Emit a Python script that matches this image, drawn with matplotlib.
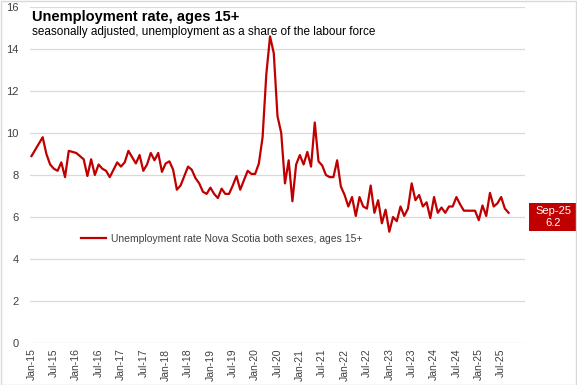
import matplotlib
matplotlib.use('Agg')
import matplotlib.pyplot as plt
from matplotlib.patches import Rectangle
import numpy as np

# Tasa de desempleo mensual, Nova Scotia, ene-2015 a sep-2025
anios = list(range(15, 26))
meses = [f'{m}-{a}' for a in anios for m in ['Jan', 'Feb', 'Mar', 'Apr', 'May', 'Jun',
                                              'Jul', 'Aug', 'Sep', 'Oct', 'Nov', 'Dec']][:129]
tasa = [8.9, 9.2, 9.5, 9.8, 9.0, 8.5, 8.3, 8.2, 8.6, 7.9, 9.15, 9.1,
        9.05, 8.9, 8.75, 7.95, 8.75, 8.0, 8.5, 8.3, 8.2, 7.9, 8.25, 8.6,
        8.4, 8.6, 9.15, 8.85, 8.55, 8.95, 8.2, 8.5, 9.05, 8.7, 9.05, 8.15,
        8.55, 8.65, 8.25, 7.3, 7.5, 7.95, 8.4, 8.25, 7.85, 7.6, 7.2, 7.1,
        7.4, 7.1, 6.9, 7.35, 7.1, 7.1, 7.5, 7.95, 7.3, 7.75, 8.2, 8.05,
        8.05, 8.55, 9.8, 12.8, 14.6, 13.8, 10.8, 10.0, 7.6, 8.7, 6.75, 8.5,
        8.95, 8.5, 9.1, 8.4, 10.5, 8.65, 8.45, 8.0, 7.9, 7.9, 8.7, 7.45,
        7.05, 6.5, 6.95, 6.05, 6.95, 6.5, 6.4, 7.5, 6.2, 6.8, 5.7, 6.35,
        5.3, 6.0, 5.8, 6.5, 6.05, 6.4, 7.6, 6.8, 7.05, 6.5, 6.7, 5.95,
        6.95, 6.2, 6.45, 6.2, 6.5, 6.5, 6.95, 6.6, 6.3, 6.3, 6.3, 6.3,
        5.85, 6.55, 6.05, 7.15, 6.5, 6.65, 6.95, 6.4, 6.2]
etiqueta_serie = 'Unemployment rate Nova Scotia both sexes, ages 15+'

rojo = '#C00000'
gris = '#D9D9D9'
texto = '#404040'

plt.rcParams['font.family'] = ['Liberation Sans', 'DejaVu Sans']

fig = plt.figure(figsize=(5.77, 3.85), dpi=100)
ax = fig.add_axes([30 / 577, 42 / 385, 495 / 577, 336 / 385])

x = np.arange(len(tasa))
ax.plot(x, tasa, color=rojo, linewidth=1.6, label=etiqueta_serie, zorder=3)

ax.set_ylim(0, 16)
ax.set_yticks(range(0, 17, 2))
ax.set_xlim(-0.4, 132.4)
ax.set_xticks(x[::6])
ax.set_xticklabels(meses[::6], rotation=90, fontsize=7.5, color=texto)
ax.tick_params(axis='y', labelsize=8, colors=texto, length=0, pad=8)
ax.tick_params(axis='x', length=0, pad=4)
ax.grid(axis='y', color=gris, linewidth=0.9)
ax.set_axisbelow(True)
for s in ax.spines.values():
    s.set_visible(False)

ax.legend(loc='center left', bbox_to_anchor=(0.085, 0.31), frameon=False,
          fontsize=7.5, handlelength=2.4, handletextpad=0.4,
          labelcolor=texto)

# titulo y subtitulo
fig.text(32 / 577, 1 - 17 / 385, 'Unemployment rate, ages 15+', fontsize=10.5,
         fontweight='bold', color='black', va='center', ha='left')
fig.text(32 / 577, 1 - 32 / 385,
         'seasonally adjusted, unemployment as a share of the labour force',
         fontsize=8.5, color='black', va='center', ha='left')

# etiqueta del ultimo valor
fig.patches.append(Rectangle((529 / 577, 154 / 385), 50 / 577, 28 / 385,
                             transform=fig.transFigure, facecolor=rojo,
                             edgecolor='none'))
fig.text(553 / 577, 1 - 217 / 385, f'{meses[-1]}\n{tasa[-1]:.1f}', color='white',
         fontsize=8, ha='center', va='center', linespacing=1.3)

# borde del grafico
fig.patches.append(Rectangle((0.5 / 577, 0.5 / 385), 575.5 / 577, 383.5 / 385,
                             transform=fig.transFigure, facecolor='none',
                             edgecolor=gris, linewidth=1))

fig.savefig('out.png', dpi=100)
